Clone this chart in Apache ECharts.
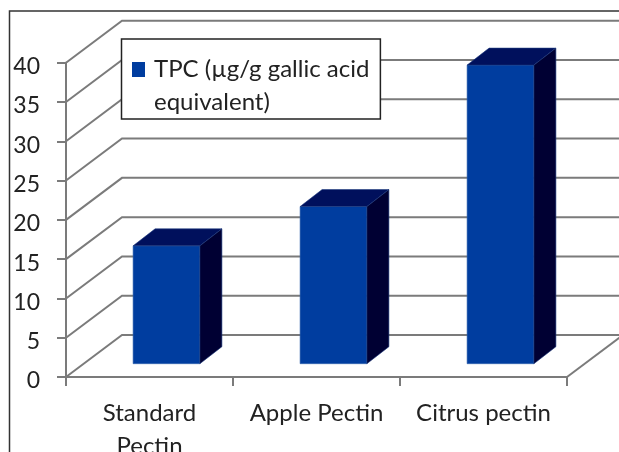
<!DOCTYPE html>
<html>
<head>
<meta charset="utf-8">
<style>html,body{margin:0;padding:0;background:#fff;overflow:hidden}#c{width:619px;height:452px}</style>
<script src="https://cdn.jsdelivr.net/npm/echarts@6/dist/echarts.min.js"></script>
</head>
<body>
<div id="c"></div>
<script>
var categories = ['Standard\nPectin', 'Apple Pectin', 'Citrus pectin'];
var tpcValues = [15, 20, 38];
var yTicks = [0, 5, 10, 15, 20, 25, 30, 35, 40];
var seriesName = 'TPC (µg/g gallic acid\nequivalent)';

var chart = echarts.init(document.getElementById('c'), null, {renderer: 'canvas'});
var DX = 56, DY = -42;
var gridColor = '#7b7b7b';
var font = 'Lato';

function renderGrid(params, api) {
  var cs = params.coordSys;
  var y = api.coord([0, api.value(0)])[1];
  var x0 = cs.x, x1 = cs.x + cs.width;
  var pts = [[x0, y], [x0 + DX, y + DY], [x1 + DX, y + DY]];
  var children = [{type: 'polyline', shape: {points: pts}, style: {fill: null, stroke: gridColor, lineWidth: 2}}];
  if (api.value(0) === 0) {
    children.push({type: 'line', shape: {x1: x1, y1: y, x2: x1 + DX, y2: y + DY}, style: {stroke: gridColor, lineWidth: 2}});
  }
  return {type: 'group', children: children};
}

function renderBar(params, api) {
  var band = api.size([1, 0])[0];
  var c = api.coord([api.value(0), api.value(1)]);
  var base = api.coord([api.value(0), 0]);
  var w = band * 0.4;
  var ox = 17, oy = -13.3, dx = 22, dy = -17;
  var l = c[0] - w / 2 + ox, r = l + w;
  var t = c[1] + oy, b = base[1] + oy;
  var edge = '#2f62ad';
  return {type: 'group', children: [
    {type: 'polygon', shape: {points: [[l, b], [r, b], [r, t], [l, t]]}, style: {fill: '#003d9f', stroke: edge, lineWidth: 0.6}},
    {type: 'polygon', shape: {points: [[l, t], [r, t], [r + dx, t + dy], [l + dx, t + dy]]}, style: {fill: '#00105c', stroke: '#1d3a80', lineWidth: 0.6}},
    {type: 'polygon', shape: {points: [[r, t], [r + dx, t + dy], [r + dx, b + dy], [r, b]]}, style: {fill: '#000033', stroke: '#1d3a80', lineWidth: 0.6}}
  ]};
}

chart.setOption({
  animation: false,
  backgroundColor: '#fff',
  grid: {left: 66, right: 52, top: 62.7, bottom: 75, outerBoundsMode: 'none'},
  legend: {
    left: 121.5, top: 39,
    data: [seriesName],
    orient: 'vertical',
    icon: 'path://M0 0H13V15H0Z M0 48H0.01Z',
    itemWidth: 13, itemHeight: 48, itemGap: 0,
    padding: [14, 11, 0, 10.5],
    backgroundColor: '#fff',
    borderColor: '#222',
    borderWidth: 1.5,
    borderRadius: 0,
    textStyle: {fontFamily: font, fontSize: 24, lineHeight: 33, color: '#222', padding: [0, 0, 0, 4]}
  },
  xAxis: {
    type: 'category',
    data: categories,
    axisLine: {lineStyle: {color: gridColor, width: 2}},
    axisTick: {show: true, alignWithLabel: false, length: 9, lineStyle: {color: gridColor, width: 2}},
    axisLabel: {margin: 20, fontFamily: font, fontSize: 24, lineHeight: 33, color: '#222', interval: 0}
  },
  yAxis: {
    type: 'value', min: 0, max: 40, interval: 5,
    splitLine: {show: false},
    axisLine: {show: true, lineStyle: {color: gridColor, width: 2}},
    axisTick: {show: true, length: 9, lineStyle: {color: gridColor, width: 2}},
    axisLabel: {margin: 26, fontFamily: font, fontSize: 23, color: '#222', verticalAlign: 'top', lineHeight: 8}
  },
  graphic: [{type: 'rect', z: 0, shape: {x: 9.5, y: 11, width: 800, height: 800}, style: {fill: null, stroke: '#333', lineWidth: 1.5}}],
  series: [
    {type: 'custom', name: 'grid', z: 1, silent: true, data: yTicks.map(function (v) { return [v]; }), encode: {y: 0}, renderItem: renderGrid},
    {type: 'custom', name: seriesName, z: 3, itemStyle: {color: '#003d9f'}, data: tpcValues.map(function (v, i) { return [i, v]; }), encode: {x: 0, y: 1}, renderItem: renderBar}
  ]
});
</script>
</body>
</html>
